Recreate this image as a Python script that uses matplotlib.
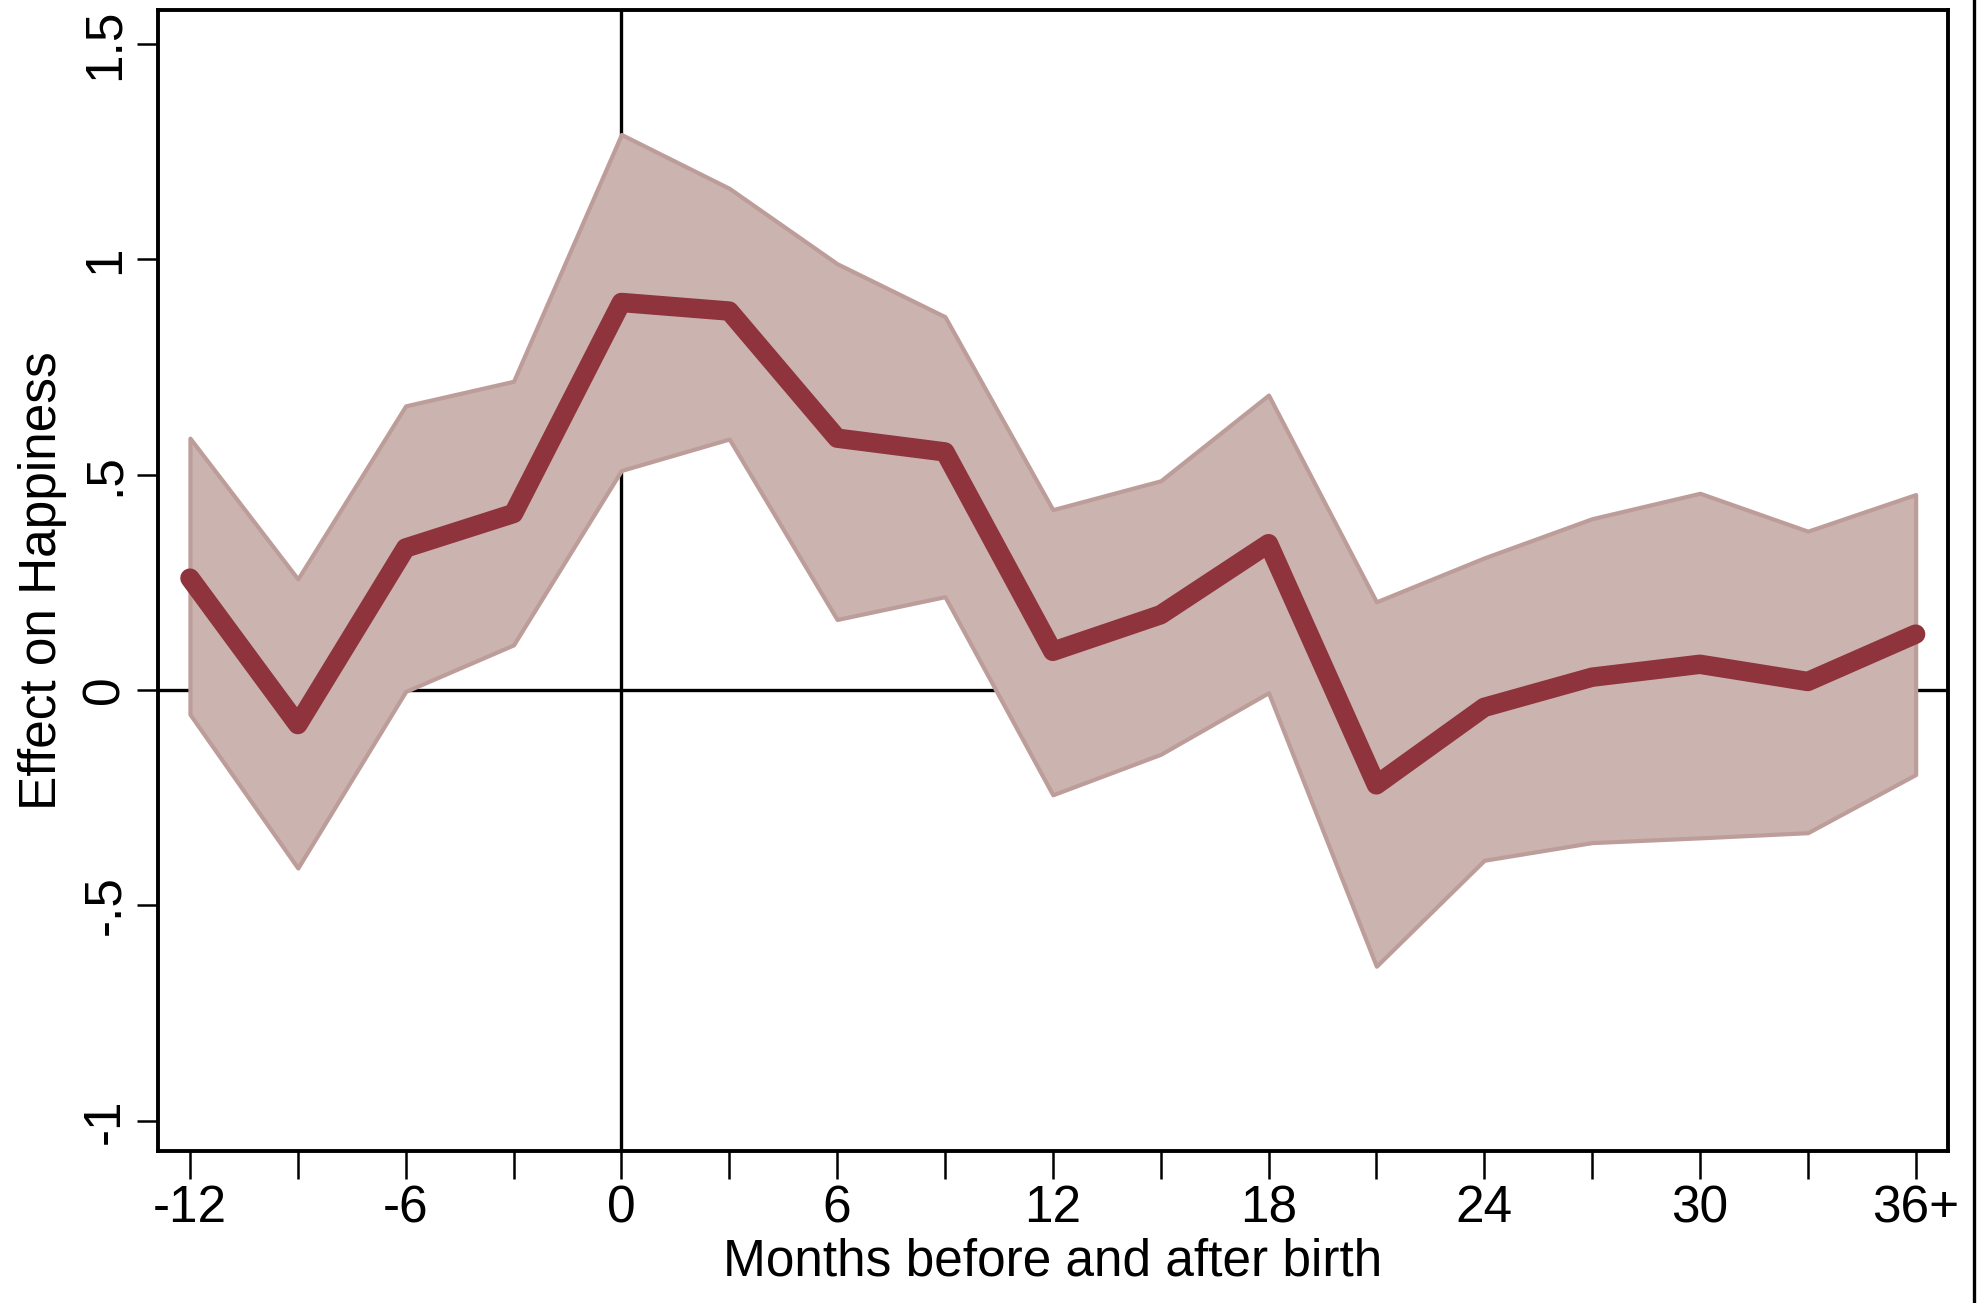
import matplotlib
matplotlib.use("Agg")
import matplotlib.pyplot as plt
from matplotlib.lines import Line2D

plt.rcParams['font.family'] = ['Liberation Sans', 'DejaVu Sans']

months = [-12, -9, -6, -3, 0, 3, 6, 9, 12, 15, 18, 21, 24, 27, 30, 33, 36]
effect = [0.26, -0.08, 0.33, 0.41, 0.90, 0.88, 0.585, 0.553, 0.09, 0.175, 0.34,
          -0.22, -0.04, 0.03, 0.06, 0.02, 0.13]
upper = [0.585, 0.258, 0.66, 0.717, 1.29, 1.165, 0.99, 0.867, 0.419, 0.486, 0.685,
         0.205, 0.307, 0.398, 0.457, 0.369, 0.454]
lower = [-0.056, -0.413, -0.003, 0.105, 0.51, 0.583, 0.164, 0.217, -0.243, -0.149,
         -0.006, -0.641, -0.395, -0.354, -0.343, -0.331, -0.196]
xtick_vals = [-12, -9, -6, -3, 0, 3, 6, 9, 12, 15, 18, 21, 24, 27, 30, 33, 36]
xtick_labels = ['-12', '', '-6', '', '0', '', '6', '', '12', '', '18', '', '24', '', '30', '', '36+']
ytick_vals = [-1, -0.5, 0, 0.5, 1, 1.5]
ytick_labels = ['-1', '-.5', '0', '.5', '1', '1.5']

W, H = 1977, 1303
fig = plt.figure(figsize=(W / 100, H / 100), dpi=100)
ax = fig.add_axes([157.6 / W, 1 - 1151 / H, (1948 - 157.6) / W, (1151 - 10) / H])

ax.axhline(0, color='black', lw=2.4, zorder=1)
ax.axvline(0, color='black', lw=2.4, zorder=1)
ax.fill_between(months, lower, upper, facecolor='#cbb4b0', edgecolor='#bd9d99',
                lw=3.0, zorder=2)
ax.plot(months, effect, color='#8f333c', lw=14, solid_capstyle='round',
        solid_joinstyle='round', zorder=3)

ax.set_xlim(-12.9, 36.9)
ax.set_ylim(-1.07, 1.579)
ax.set_xticks(xtick_vals)
ax.set_xticklabels(xtick_labels)
ax.set_yticks(ytick_vals)
ax.set_yticklabels(ytick_labels, rotation=90, va='center')

for s in ax.spines.values():
    s.set_linewidth(2.8)
ax.tick_params(axis='x', length=20, width=1.8, labelsize=37, pad=4)
ax.tick_params(axis='y', length=15, width=1.8, labelsize=37, pad=5)

ax.set_xlabel('Months before and after birth', fontsize=37, labelpad=3)
ax.set_ylabel('Effect on Happiness', fontsize=37, labelpad=10)

fig.add_artist(Line2D([1974 / W, 1974 / W], [0, 1], color='black', lw=2.4,
                      transform=fig.transFigure))

fig.savefig('out.png', dpi=100, facecolor='white')
